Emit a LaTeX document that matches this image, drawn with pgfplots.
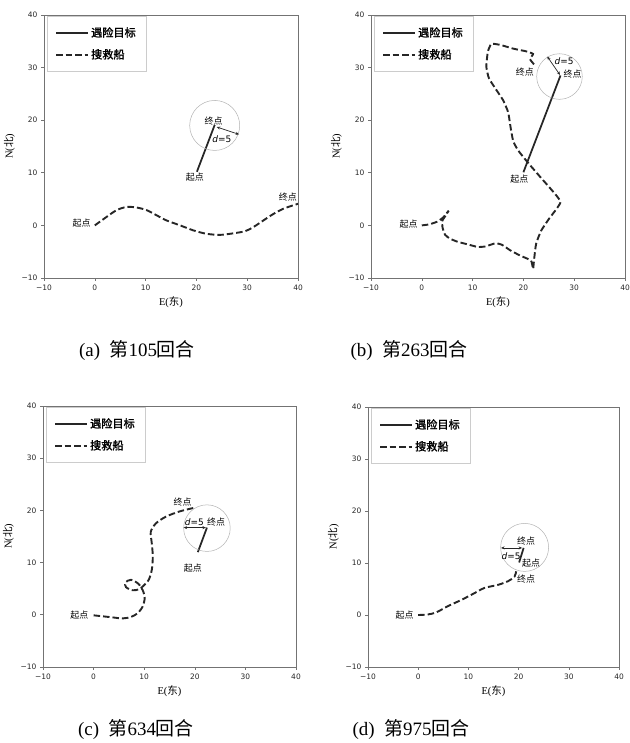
\documentclass[border=0pt]{standalone}
\usepackage{pgfplots}
\pgfplotsset{compat=1.18}
\usepackage{fontspec}
\setmainfont{Liberation Serif}
\newfontfamily\cjk{Noto Sans CJK SC}
\newfontfamily\cjkb[FakeBold=1.5]{Noto Sans CJK SC}
\newfontfamily\dejavu{DejaVu Sans}
\usetikzlibrary{arrows.meta}

\newcommand\ticksfont{\dejavu\fontsize{7.5}{8}\selectfont}
\newcommand\labfont{\fontsize{10.5}{12}\selectfont}
\newcommand\legfont{\cjkb\fontsize{11.2}{13}\selectfont}
\newcommand\annfont{\cjk\fontsize{9}{10}\selectfont}
\newcommand\capfont{\fontsize{19}{21}\selectfont}

\pgfplotsset{
  myaxis/.style={
    scale only axis, anchor=south west,
    xmin=-10, xmax=40, ymin=-10, ymax=40,
    xtick={-10,0,10,20,30,40}, ytick={-10,0,10,20,30,40},
    xticklabels={−10,0,10,20,30,40}, yticklabels={−10,0,10,20,30,40},
    tick label style={font=\ticksfont, text=black!85},
    tick align=outside, tick pos=left, major tick length=3bp,
    axis line style={black!55, line width=0.7bp},
    every tick/.style={black!55, line width=0.6bp},
    xlabel={E({\cjk 东})}, ylabel={N({\cjk 北})},
    label style={font=\labfont},
    clip=false,
    legend cell align=left,
    legend image code/.code={\draw[##1] (0bp,0bp) -- (32bp,0bp);},
    legend style={at={(axis description cs:0.012,0.996)}, anchor=north west,
      draw=black!20, font=\legfont,
      inner xsep=8bp, inner ysep=9bp, row sep=7bp,
      /tikz/every even column/.append style={column sep=5bp}},
  },
}
\tikzset{
  target/.style={black!85, line width=1.75bp},
  ship/.style={black!85, line width=1.9bp, dash pattern=on 6.5bp off 3bp, smooth, tension=0.5},
  circ/.style={black!30, line width=0.5bp},
  arr/.style={black!85, line width=0.7bp, {Stealth[length=3.5bp,width=3bp]}-{Stealth[length=3.5bp,width=3bp]}},
  anno/.style={font=\annfont, inner sep=0pt},
}

\begin{document}
\begin{tikzpicture}[x=1bp,y=1bp]
\useasboundingbox (0,0) rectangle (630,743);

% (a)
\begin{axis}[myaxis, at={(44bp,465bp)}, width=254bp, height=263bp]
\addplot[target] coordinates {(20.1,10.2) (23.6,19.1)};
\addlegendentry{遇险目标}
\addplot[ship] coordinates {(0,0) (2.3,1.6) (4.3,2.9) (6.25,3.5) (8.2,3.4) (10.2,2.9) (12.2,1.9) (14.1,0.95) (16.8,0) (19.4,-0.95) (22,-1.6) (24.7,-1.8) (27.3,-1.5) (29.6,-1.1) (31.25,-0.3) (33.2,0.95) (35.2,2.2) (37.2,3.2) (40,4.1)};
\addlegendentry{搜救船}
\draw[circ] (axis cs:23.6,19.0) circle[radius=25bp];
\draw[arr] (axis cs:24.0,18.7) -- (axis cs:28.4,17.3);
\node[anno] at (axis cs:25.0,16.3) {\dejavu\textit{d}=5};
\node[anno] at (axis cs:23.4,19.9) {终点};
\node[anno] at (axis cs:19.7,9.2) {起点};
\node[anno] at (axis cs:-2.6,0.4) {起点};
\node[anno] at (axis cs:38.0,5.4) {终点};
\end{axis}

% (b)
\begin{axis}[myaxis, at={(371bp,465bp)}, width=254bp, height=263bp]
\addplot[target] coordinates {(20.0,10.1) (27.3,28.5)};
\addlegendentry{遇险目标}
\addplot[ship, tension=0.3] coordinates {(0,0) (1.5,0.2) (3,0.7) (4.2,1.5) (5.3,2.8) (4.5,1.6) (4.0,0.8) (4.1,-0.5) (4.6,-1.8) (5.5,-2.5) (7,-3.1) (9,-3.6) (11,-4.1) (12.5,-4.0) (14.5,-3.4) (15.8,-3.7) (17.5,-4.8) (19.5,-5.8) (21.5,-6.7) (21.9,-8.3) (22.1,-6.5) (22.5,-3.5) (23.5,-1.0) (25,1.2) (27.3,4.4) (25.5,6.8) (23.5,9.0) (21,11.8) (19,14.2) (18,16.0) (17.5,18.5) (17,21.5) (16,23.8) (14.5,26) (13.2,28) (12.7,30.2) (13.0,33) (13.7,34.5) (15.5,34.3) (18,33.6) (20.5,33.1) (21.9,32.6) (21.3,31.6) (22.2,30.5)};
\addlegendentry{搜救船}
\draw[circ] (axis cs:27.1,28.3) circle[radius=22.8bp];
\draw[arr] (axis cs:27.2,28.6) -- (axis cs:24.7,32.1);
\node[anno] at (axis cs:28.0,31.2) {\dejavu\textit{d}=5};
\node[anno] at (axis cs:29.7,28.8) {终点};
\node[anno] at (axis cs:20.3,29.1) {终点};
\node[anno] at (axis cs:19.2,8.7) {起点};
\node[anno] at (axis cs:-2.6,0.3) {起点};
\end{axis}

% (c)
\begin{axis}[myaxis, at={(43bp,76bp)}, width=253bp, height=261bp]
\addplot[target] coordinates {(20.6,12.0) (22.4,16.7)};
\addlegendentry{遇险目标}
\addplot[ship] coordinates {(0,-0.1) (3.8,-0.5) (5.7,-0.7) (7.4,-0.4) (8.7,0.3) (9.7,1.6) (10.1,3.2) (9.8,4.5) (8.9,5.9) (7.4,6.7) (6.3,6.2) (6.4,5.3) (7.7,4.7) (9.0,4.9) (10.0,5.7) (10.9,6.7) (11.5,8.6) (11.7,11.2) (11.5,13.7) (11.3,15.9) (12.3,17.5) (14.3,18.8) (17.0,19.8) (19.9,20.5)};
\addlegendentry{搜救船}
\draw[circ] (axis cs:22.4,16.6) circle[radius=23.3bp];
\draw[arr] (axis cs:17.8,16.7) -- (axis cs:22.2,16.7);
\node[anno] at (axis cs:19.9,17.7) {\dejavu\textit{d}=5};
\node[anno] at (axis cs:24.2,17.7) {终点};
\node[anno] at (axis cs:19.6,8.9) {起点};
\node[anno] at (axis cs:-2.8,-0.1) {起点};
\node[anno] at (axis cs:17.6,21.5) {终点};
\end{axis}

% (d)
\begin{axis}[myaxis, at={(368bp,76bp)}, width=251bp, height=260bp]
\addplot[target] coordinates {(20.1,10.1) (21.0,12.9)};
\addlegendentry{遇险目标}
\addplot[ship] coordinates {(0,0) (1.9,0.1) (3.6,0.5) (5.9,1.7) (8.6,2.9) (11.2,4.2) (13.2,5.2) (15.9,5.8) (17.9,6.5) (19.2,7.4) (19.5,8.4)};
\addlegendentry{搜救船}
\draw[circ] (axis cs:21.2,13.0) circle[radius=24bp];
\draw[arr] (axis cs:16.5,12.9) -- (axis cs:20.7,12.9);
\node[anno] at (axis cs:18.5,11.3) {\dejavu\textit{d}=5};
\node[anno] at (axis cs:21.5,14.2) {终点};
\node[anno] at (axis cs:22.5,9.9) {起点};
\node[anno] at (axis cs:21.5,7.0) {终点};
\node[anno] at (axis cs:-2.7,0) {起点};
\end{axis}

\node[font=\capfont] at (137,392) {(a)\ \ {\cjk 第}105{\cjk 回合}};
\node[font=\capfont] at (409,392) {(b)\ \ {\cjk 第}263{\cjk 回合}};
\node[font=\capfont] at (136,13) {(c)\ \ {\cjk 第}634{\cjk 回合}};
\node[font=\capfont] at (411,13) {(d)\ \ {\cjk 第}975{\cjk 回合}};
\end{tikzpicture}
\end{document}
